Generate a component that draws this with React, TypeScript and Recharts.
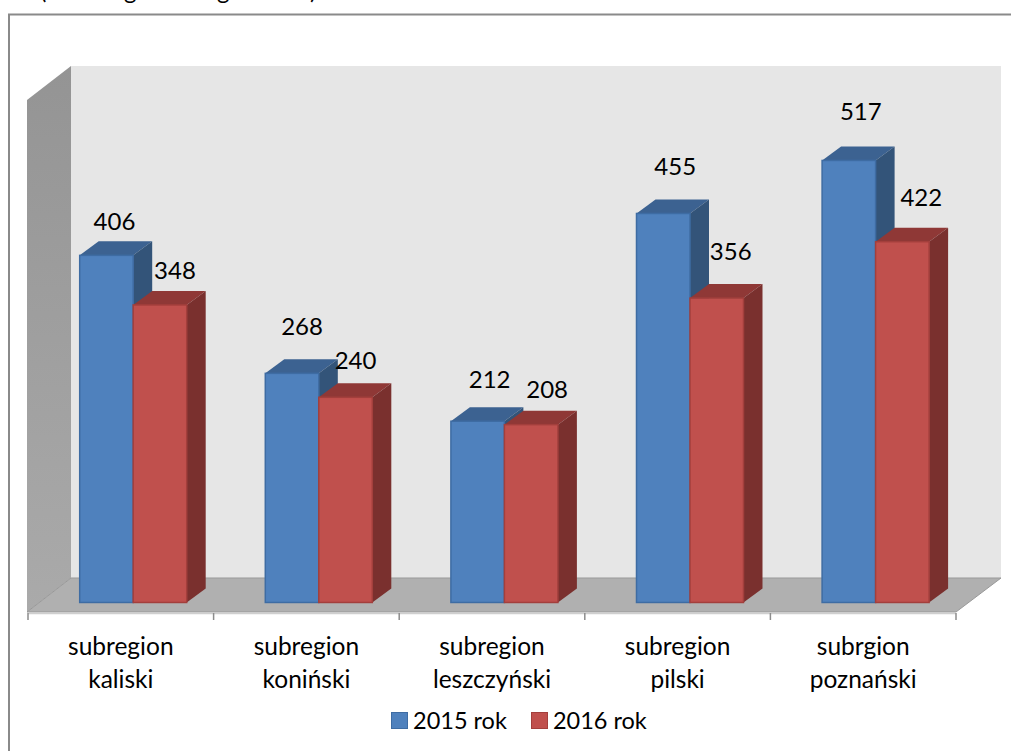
import { BarChart, Bar, XAxis, YAxis, Legend, LabelList } from "recharts"

const categories = [
  "subregion kaliski",
  "subregion koniński",
  "subregion leszczyński",
  "subregion pilski",
  "subrgion poznański",
]
const series2015 = [406, 268, 212, 455, 517]
const series2016 = [348, 240, 208, 356, 422]

// hand-placed data labels in the original, relative to the top-centre of each bar
const labelShift2015 = [[8, -35], [10, -48], [12, -43], [12, -48], [12, -50]]
const labelShift2016 = [[15, -35], [10, -38], [16, -36], [14, -48], [19, -45]]

const chartData = categories.map((name, i) => ({
  name,
  y2015: series2015[i],
  y2016: series2016[i],
}))

const FONT = "Lato, Carlito, sans-serif"
const WIDTH = 1011
const HEIGHT = 751
const PLOT_LEFT = 28
const PLOT_RIGHT = 956
const BAND = (PLOT_RIGHT - PLOT_LEFT) / categories.length

// the 3D look: bars sit in the middle of the floor
const BAR_SHIFT = 12.7
const DEPTH_X = 19
const DEPTH_Y = 14

function Bar3D(props: any) {
  const { x, y, width, height, fill, stroke, topFill, sideFill } = props
  const left = x + BAR_SHIFT
  const right = left + width
  const bottom = y + height
  return (
    <g>
      <polygon
        points={`${left},${y} ${left + DEPTH_X},${y - DEPTH_Y} ${right + DEPTH_X},${y - DEPTH_Y} ${right},${y}`}
        fill={topFill}
      />
      <polygon
        points={`${right},${y} ${right + DEPTH_X},${y - DEPTH_Y} ${right + DEPTH_X},${bottom - DEPTH_Y} ${right},${bottom}`}
        fill={sideFill}
      />
      <rect x={left} y={y} width={width} height={height} fill={fill} stroke={stroke} strokeWidth={1.5} />
    </g>
  )
}

function makeLabel(shifts: number[][]) {
  return (props: any) => {
    const { x, y, width, value, index } = props
    return (
      <text
        x={x + BAR_SHIFT + width / 2 + shifts[index][0]}
        y={y + shifts[index][1]}
        textAnchor="middle"
        dominantBaseline="central"
        fontFamily={FONT}
        fontSize={24}
        fill="#000"
      >
        {value}
      </text>
    )
  }
}

function CategoryTick(props: any) {
  const { x, y, payload, index } = props
  const words = String(payload.value).split(" ")
  const x0 = x - BAND / 2
  return (
    <g>
      <line x1={x0} x2={x0} y1={y - 6} y2={y + 1} stroke="#8c8c8c" strokeWidth={1.5} />
      {index === categories.length - 1 && (
        <line x1={x0 + BAND} x2={x0 + BAND} y1={y - 6} y2={y + 1} stroke="#8c8c8c" strokeWidth={1.5} />
      )}
      <text textAnchor="middle" fontFamily={FONT} fontSize={24.5} fill="#000">
        <tspan x={x} y={y + 36}>{words[0]}</tspan>
        <tspan x={x} y={y + 69}>{words[1]}</tspan>
      </text>
    </g>
  )
}

function LegendRow(props: any) {
  const { payload } = props
  return (
    <div style={{ display: "flex", fontFamily: FONT, fontSize: 23.5, color: "#000", lineHeight: "24px" }}>
      {(payload || []).map((item: any) => (
        <div key={item.value} style={{ display: "flex", alignItems: "center", marginRight: 24 }}>
          <span
            style={{
              width: 15,
              height: 15,
              background: item.color,
              border: `1px solid ${item.payload.stroke}`,
              marginRight: 5,
            }}
          />
          {item.value}
        </div>
      ))}
    </div>
  )
}

// walls and floor behind the bars
function Room() {
  return (
    <g>
      <defs>
        <linearGradient id="sideWall" x1="0" y1="0" x2="0" y2="1">
          <stop offset="0%" stopColor="#949494" />
          <stop offset="100%" stopColor="#aaaaaa" />
        </linearGradient>
      </defs>
      <polygon points="71,66 1001,66 1001,578 71,578" fill="#e6e6e6" />
      <polygon points="27,100 71,66 71,578 27,612" fill="url(#sideWall)" />
      <polygon points="27,612 71,578 1001,578 956,612" fill="#b0b0b0" stroke="#999" strokeWidth={1} />
      <line x1={28} x2={956} y1={613.5} y2={613.5} stroke="#cfcfcf" strokeWidth={1.5} />
      {/* frame: only the top and left edges are inside the picture */}
      <path d={`M9 ${HEIGHT} V14.5 H${WIDTH}`} fill="none" stroke="#8a8a8a" strokeWidth={2} />
      {/* bottom of the clipped line of text above the frame */}
      <g fontFamily={FONT} fontSize={24} fill="#000">
        <text x={40} y={-1}>(</text>
        <text x={124} y={-1}>g</text>
        <text x={217} y={-1}>g</text>
        <text x={310} y={-1}>)</text>
      </g>
    </g>
  )
}

export default function App() {
  return (
    <div style={{ position: "absolute", left: 0, top: 0, width: WIDTH, height: HEIGHT }}>
      <BarChart
        width={WIDTH}
        height={HEIGHT}
        data={chartData}
        margin={{ top: 89.5, right: WIDTH - PLOT_RIGHT, bottom: 38, left: PLOT_LEFT }}
        barSize={53.5}
        barGap={0}
      >
        <Room />
        <XAxis
          dataKey="name"
          height={100}
          axisLine={false}
          tickLine={false}
          tick={<CategoryTick />}
          tickMargin={0}
          interval={0}
        />
        <YAxis hide domain={[-12.3, 600]} />
        <Legend
          verticalAlign="middle"
          content={<LegendRow />}
          wrapperStyle={{ position: "absolute", left: 391, top: 708, width: "auto" }}
        />
        <Bar
          dataKey="y2015"
          name="2015 rok"
          fill="#4f81bd"
          stroke="#3e6ca3"
          isAnimationActive={false}
          shape={<Bar3D topFill="#3c6291" sideFill="#335479" />}
        >
          <LabelList dataKey="y2015" content={makeLabel(labelShift2015)} />
        </Bar>
        <Bar
          dataKey="y2016"
          name="2016 rok"
          fill="#c0504d"
          stroke="#a33f3c"
          isAnimationActive={false}
          shape={<Bar3D topFill="#8f3836" sideFill="#7a302e" />}
        >
          <LabelList dataKey="y2016" content={makeLabel(labelShift2016)} />
        </Bar>
      </BarChart>
    </div>
  )
}
